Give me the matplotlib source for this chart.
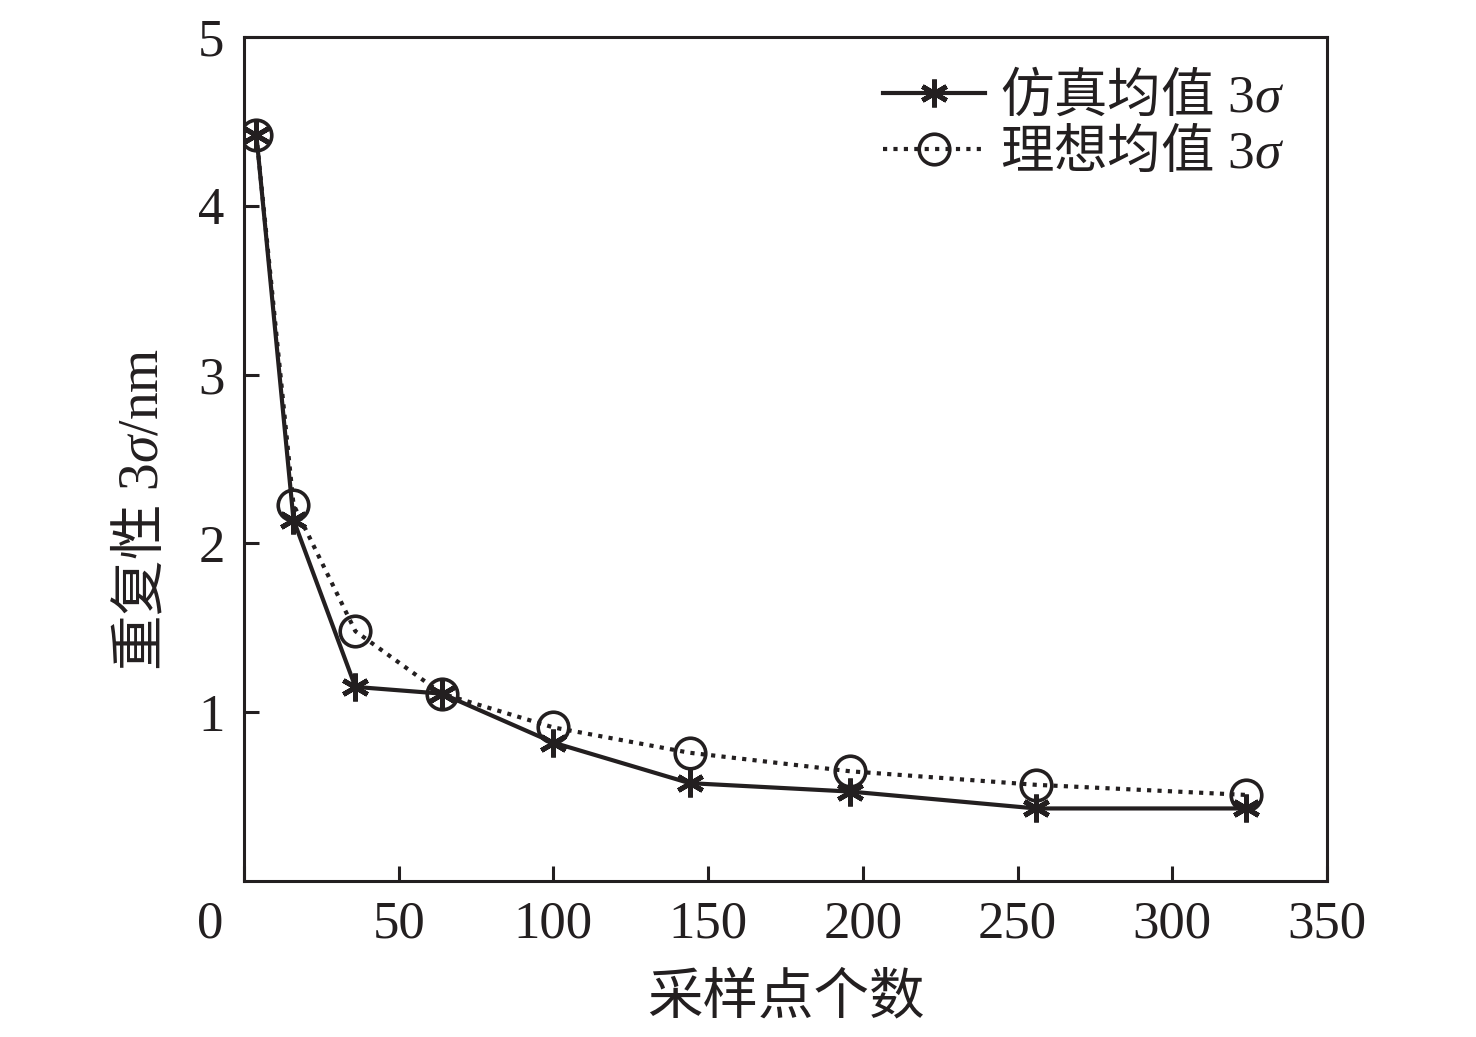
import matplotlib
matplotlib.use("Agg")
import matplotlib.pyplot as plt
from matplotlib.transforms import ScaledTranslation

plt.rcParams['font.family'] = ['Liberation Serif', 'Noto Sans CJK SC']
plt.rcParams['mathtext.fontset'] = 'custom'
plt.rcParams['mathtext.rm'] = 'Noto Sans CJK SC'
plt.rcParams['mathtext.it'] = 'Liberation Serif:italic'
plt.rcParams['mathtext.sf'] = 'Liberation Serif'
plt.rcParams['mathtext.fallback'] = 'stix'

sample_counts = [4, 16, 36, 64, 100, 144, 196, 256, 324]
sim_mean_3sigma = [4.42, 2.14, 1.15, 1.11, 0.82, 0.58, 0.53, 0.43, 0.43]
ideal_mean_3sigma = [4.42, 2.23, 1.48, 1.11, 0.91, 0.76, 0.65, 0.57, 0.51]
x_ticks = [0, 50, 100, 150, 200, 250, 300, 350]
y_ticks = [1, 2, 3, 4, 5]
legend_labels = ['$\\mathrm{仿真均值}$ $\\mathsf{3}\\mathit{\\sigma}$',
                 '$\\mathrm{理想均值}$ $\\mathsf{3}\\mathit{\\sigma}$']
x_label = '采样点个数'
y_label = '$\\mathrm{重复性}$ $\\mathsf{3}\\mathit{\\sigma}\\mathsf{/nm}$'

ink = '#231f20'
fig = plt.figure(figsize=(14.76, 10.37), dpi=100)
ax = fig.add_axes([0.1653, 0.1504, 0.899 - 0.1653, 0.9643 - 0.1504])

ax.plot(sample_counts, sim_mean_3sigma, color=ink, linestyle='-', linewidth=3.0,
        marker=(6, 2, 0), markersize=20, markeredgewidth=3.5, label=legend_labels[0])
ax.plot(sample_counts, ideal_mean_3sigma, color=ink, linestyle=(0, (1, 1.5)), linewidth=3.0,
        marker='o', markersize=22, markerfacecolor='none', markeredgewidth=2.6, label=legend_labels[1])

ax.set_xlim(0, 350)
ax.set_ylim(0, 5)
ax.set_xticks(x_ticks)
ax.set_yticks(y_ticks)
ax.tick_params(direction='in', length=11, width=2.2, labelsize=38, colors=ink, pad=14)
for s in ax.spines.values():
    s.set_linewidth(2.2)
    s.set_color(ink)

# the "0" label sits at the corner, left of the axis
lbl0 = ax.get_xticklabels()[0]
lbl0.set_transform(lbl0.get_transform() + ScaledTranslation(-0.34, 0, fig.dpi_scale_trans))

ax.set_xlabel(x_label, fontsize=40, color=ink, labelpad=18)
ax.set_ylabel(y_label, fontsize=40, color=ink)
ax.yaxis.set_label_coords(-0.069, 0.44)

leg = ax.legend(loc='upper right', frameon=False, fontsize=38.5, handlelength=1.9,
                handletextpad=0.28, labelspacing=0.06, borderaxespad=0.2,
                bbox_to_anchor=(0.99, 1.0))
for t in leg.get_texts():
    t.set_color(ink)

fig.savefig('out.png', dpi=100)
